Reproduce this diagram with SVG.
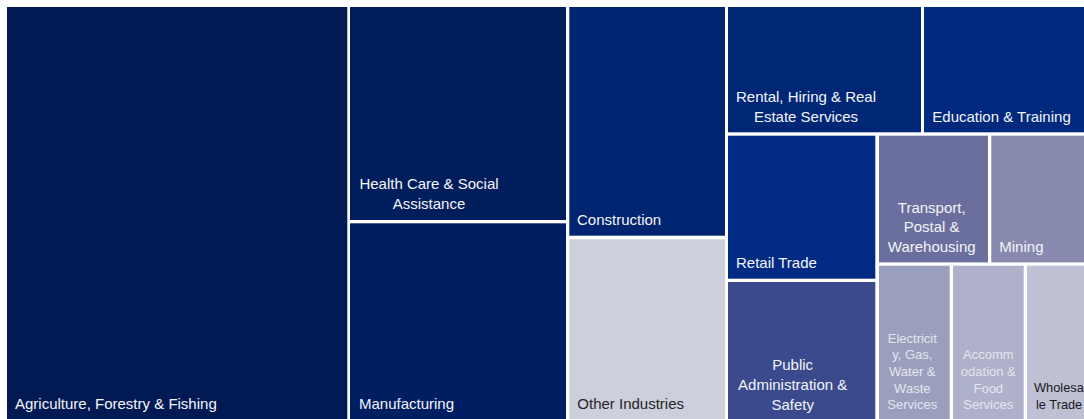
<svg xmlns="http://www.w3.org/2000/svg" width="1084" height="419" viewBox="0 0 1084 419">
<style>
text{font-family:"Liberation Sans",Arial,sans-serif;font-size:15px;fill:#f4f5f9}
.c{text-anchor:middle}
.s{font-size:13px;fill:#e4e6ef}
.d{fill:#262626}
.ds{font-size:12.8px;fill:#1a1a1a}
</style>
<rect width="1084" height="419" fill="#ffffff"/>
<g id="agriculture"><rect x="7" y="7" width="340.3" height="415" fill="#011a54"/><text x="15" y="409">Agriculture, Forestry &amp; Fishing</text></g>
<g id="health-care"><rect x="350" y="7" width="216" height="213" fill="#001d5c"/><text class="c" x="429" y="189">Health Care &amp; Social</text><text class="c" x="429" y="209">Assistance</text></g>
<g id="manufacturing"><rect x="350" y="223.3" width="216" height="199" fill="#001f63"/><text x="359" y="409">Manufacturing</text></g>
<g id="construction"><rect x="569.3" y="7" width="155.7" height="228.7" fill="#00246f"/><text x="577" y="225">Construction</text></g>
<g id="other-industries"><rect x="569.3" y="239.3" width="155.7" height="183" fill="#cdcfdc"/><text class="d" x="577.3" y="409">Other Industries</text></g>
<g id="rental"><rect x="728" y="7" width="193" height="125.3" fill="#002776"/><text class="c" x="806" y="102">Rental, Hiring &amp; Real</text><text class="c" x="806" y="122">Estate Services</text></g>
<g id="education"><rect x="924" y="7" width="165" height="125.3" fill="#00297e"/><text x="932.3" y="122">Education &amp; Training</text></g>
<g id="retail"><rect x="728" y="135.7" width="147.3" height="143" fill="#002a84"/><text x="736" y="268">Retail Trade</text></g>
<g id="public-admin"><rect x="728" y="282" width="147.3" height="140" fill="#3a4a8c"/><text class="c" x="792.7" y="370">Public</text><text class="c" x="792.7" y="390">Administration &amp;</text><text class="c" x="792.7" y="409.5">Safety</text></g>
<g id="transport"><rect x="879" y="135.7" width="109" height="126.7" fill="#6a6f9e"/><text class="c" x="931.7" y="212.5">Transport,</text><text class="c" x="931.7" y="232.3">Postal &amp;</text><text class="c" x="931.7" y="252.3">Warehousing</text></g>
<g id="mining"><rect x="991.3" y="135.7" width="97" height="126.7" fill="#8789ae"/><text x="999.3" y="252.3">Mining</text></g>
<g id="electricity"><rect x="879" y="265.7" width="70.7" height="157" fill="#9a9fbd"/><text class="c s" x="912.3" y="342.5">Electricit</text><text class="c s" x="912.3" y="359.2">y, Gas,</text><text class="c s" x="912.3" y="375.9">Water &amp;</text><text class="c s" x="912.3" y="392.6">Waste</text><text class="c s" x="912.3" y="409.3">Services</text></g>
<g id="accommodation"><rect x="953" y="265.7" width="70.7" height="157" fill="#aeb1c9"/><text class="c s" x="988.3" y="359.2">Accomm</text><text class="c s" x="988.3" y="375.9">odation &amp;</text><text class="c s" x="988.3" y="392.6">Food</text><text class="c s" x="988.3" y="409.3">Services</text></g>
<g id="wholesale"><rect x="1027" y="265.7" width="62" height="157" fill="#bfc0d3"/><text class="ds" x="1034" y="392">Wholesa</text><text class="ds" x="1036" y="409.3">le Trade</text></g>
</svg>
